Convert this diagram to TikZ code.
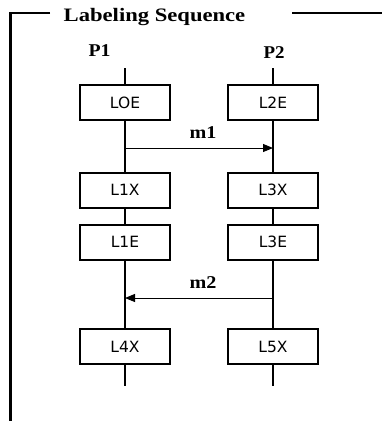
\documentclass[tikz,border=0pt]{standalone}
\usepackage{fontspec}
\usepackage{graphicx}
\setmainfont{Liberation Serif}
\newfontfamily\boxfont{DejaVu Sans}
\usetikzlibrary{arrows.meta}
\tikzset{
  lbox/.style={draw, line width=2pt, minimum width=90pt, minimum height=35pt, inner sep=0pt,
    font=\boxfont\fontsize{15.5}{18}\selectfont},
  life/.style={line width=1.4pt},
  msg/.style={line width=1pt, -{Triangle[length=10pt,width=8pt]}},
  lbl/.style={font=\bfseries\fontsize{18}{21}\selectfont, inner sep=0pt},
  frame/.style={line width=2.5pt}
}
\begin{document}
\begin{tikzpicture}[x=1pt,y=-1pt]
\useasboundingbox (0,0) rectangle (382,421);
% frame
\coordinate (fa) at (50,13);
\coordinate (fb) at (10.5,13);
\coordinate (fc) at (10.5,421);
\coordinate (fd) at (292,13);
\coordinate (fe) at (382,13);
\draw[frame] (fa) -- (fb) -- (fc);
\draw[frame] (fd) -- (fe);
\node[lbl, font=\bfseries\fontsize{19}{22}\selectfont] (title) at (154.5,17) {\scalebox{1.19}[1]{Labeling Sequence}};
% process labels
\node[lbl] (p1) at (99.5,50.5) {\scalebox{1.1}[1]{P1}};
\node[lbl] (p2) at (274,53) {\scalebox{1.05}[1]{P2}};
% boxes
\node[lbox] (l0e) at (125,102.5) {LOE};
\node[lbox] (l1x) at (125,190) {L1X};
\node[lbox] (l1e) at (125,242) {L1E};
\node[lbox] (l4x) at (125,346.5) {L4X};
\node[lbox] (l2e) at (273,102.5) {L2E};
\node[lbox] (l3x) at (273,190) {L3X};
\node[lbox] (l3e) at (273,242) {L3E};
\node[lbox] (l5x) at (273,346.5) {L5X};
% lifelines
\coordinate (t1) at (125,68);
\coordinate (b1) at (125,386);
\coordinate (t2) at (273,68);
\coordinate (b2) at (273,386);
\draw[life] (t1) -- (l0e) -- (l1x) -- (l1e) -- (l4x) -- (b1);
\draw[life] (t2) -- (l2e) -- (l3x) -- (l3e) -- (l5x) -- (b2);
% messages
\coordinate (m1s) at (126,148);
\coordinate (m1e) at (273,148);
\coordinate (m2s) at (273,298);
\coordinate (m2e) at (125,298);
\draw[msg] (m1s) -- (m1e);
\draw[msg] (m2s) -- (m2e);
\node[lbl] (m1) at (203,133) {\scalebox{1.12}[1]{m1}};
\node[lbl] (m2) at (203,283) {\scalebox{1.12}[1]{m2}};
\end{tikzpicture}
\end{document}
